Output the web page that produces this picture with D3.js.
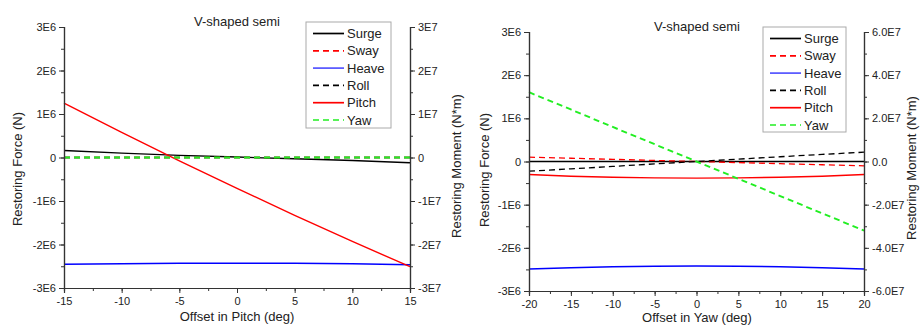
<!DOCTYPE html>
<html>
<head>
<meta charset="utf-8">
<script src="https://cdn.jsdelivr.net/npm/d3@7"></script>
<style>
  body { margin: 0; background: #fff; }
  svg text { font-family: "Liberation Sans", Arial, sans-serif; fill: #222; }
</style>
</head>
<body>
<div id="chart"></div>
<script>
// ---- data ----
var seriesNames = ["Surge", "Sway", "Heave", "Roll", "Pitch", "Yaw"];
var seriesColors = ["#000000", "#ff0000", "#0000ff", "#000000", "#ff0000", "#22ee22"];
var seriesDashed = [false, true, false, true, false, true];
var seriesWidths = [1.4, 1.3, 1.5, 1.3, 1.4, 1.9];
var seriesIsMoment = [false, false, false, true, true, true];

// left panel: offset in pitch
var pitchOffset = [-15, -10, -5, 0, 5, 10, 15];
var pitchSurge  = [0.16e6, 0.10e6, 0.05e6, 0.01e6, -0.03e6, -0.07e6, -0.12e6];
var pitchSway   = [0, 0, 0, 0, 0, 0, 0];
var pitchHeave  = [-2.455e6, -2.44e6, -2.43e6, -2.43e6, -2.43e6, -2.44e6, -2.465e6];
var pitchRoll   = [0, 0, 0, 0, 0, 0, 0];
var pitchPitch  = [1.25e7, 0.58e7, -0.075e7, -0.71e7, -1.33e7, -1.93e7, -2.51e7];
var pitchYaw    = [0, 0, 0, 0, 0, 0, 0];
var pitchForceTicks  = [3e6, 2e6, 1e6, 0, -1e6, -2e6, -3e6];
var pitchForceLabels = ["3E6", "2E6", "1E6", "0", "-1E6", "-2E6", "-3E6"];
var pitchMomentTicks  = [3e7, 2e7, 1e7, 0, -1e7, -2e7, -3e7];
var pitchMomentLabels = ["3E7", "2E7", "1E7", "0", "-1E7", "-2E7", "-3E7"];
var pitchXTicks = [-15, -10, -5, 0, 5, 10, 15];

// right panel: offset in yaw
var yawOffset = [-20, -15, -10, -5, 0, 5, 10, 15, 20];
var yawSurge  = [0, 0, 0, 0, 0, 0, 0, 0, 0];
var yawSway   = [0.10e6, 0.075e6, 0.05e6, 0.025e6, 0, -0.025e6, -0.05e6, -0.075e6, -0.10e6];
var yawHeave  = [-2.49e6, -2.46e6, -2.44e6, -2.425e6, -2.42e6, -2.425e6, -2.44e6, -2.46e6, -2.49e6];
var yawRoll   = [-0.45e7, -0.34e7, -0.23e7, -0.11e7, 0, 0.11e7, 0.22e7, 0.33e7, 0.43e7];
var yawPitch  = [-0.60e7, -0.68e7, -0.73e7, -0.76e7, -0.77e7, -0.76e7, -0.73e7, -0.68e7, -0.60e7];
var yawYaw    = [3.21e7, 2.41e7, 1.60e7, 0.80e7, 0, -0.80e7, -1.60e7, -2.40e7, -3.20e7];
var yawForceTicks  = [3e6, 2e6, 1e6, 0, -1e6, -2e6, -3e6];
var yawForceLabels = ["3E6", "2E6", "1E6", "0", "-1E6", "-2E6", "-3E6"];
var yawMomentTicks  = [6e7, 4e7, 2e7, 0, -2e7, -4e7, -6e7];
var yawMomentLabels = ["6.0E7", "4.0E7", "2.0E7", "0.0", "-2.0E7", "-4.0E7", "-6.0E7"];
var yawXTicks = [-20, -15, -10, -5, 0, 5, 10, 15, 20];

var svg = d3.select("#chart").append("svg")
  .attr("width", 920)
  .attr("height", 325);

function drawPanel(p) {
  var x = d3.scaleLinear().domain(p.xDomain).range([p.left, p.right]);
  var yF = d3.scaleLinear().domain([-3e6, 3e6]).range([p.bottom, p.top]);
  var yM = d3.scaleLinear().domain(p.momentDomain).range([p.bottom, p.top]);
  var g = svg.append("g");

  // series lines
  var line = d3.line();
  p.series.forEach(function(vals, i) {
    var ys = seriesIsMoment[i] ? yM : yF;
    g.append("path")
      .attr("d", line(p.xs.map(function(v, k) { return [x(v), ys(vals[k])]; })))
      .attr("fill", "none")
      .attr("stroke", seriesColors[i])
      .attr("stroke-width", seriesWidths[i])
      .attr("stroke-dasharray", seriesDashed[i] ? "6,4" : null);
  });

  // axes
  var minorX = d3.range(p.xDomain[0], p.xDomain[1] + 0.01, 2.5);
  g.append("g").attr("transform", "translate(0," + p.bottom + ")")
    .call(d3.axisBottom(x).tickValues(minorX).tickSize(3).tickFormat(""));
  g.append("g").attr("transform", "translate(0," + p.bottom + ")")
    .call(d3.axisBottom(x).tickValues(p.xTicks).tickSize(5).tickPadding(4)
      .tickFormat(function(d) { return String(d); }));

  var minorF = d3.range(-3e6, 3e6 + 1, 0.5e6);
  g.append("g").attr("transform", "translate(" + p.left + ",0)")
    .call(d3.axisLeft(yF).tickValues(minorF).tickSize(3).tickFormat(""));
  g.append("g").attr("transform", "translate(" + p.left + ",0)")
    .call(d3.axisLeft(yF).tickValues(p.forceTicks).tickSize(5).tickPadding(3)
      .tickFormat(function(d, i) { return p.forceLabels[i]; }));

  var mStep = (p.momentDomain[1] - p.momentDomain[0]) / 12;
  var minorM = d3.range(p.momentDomain[0], p.momentDomain[1] + 1, mStep);
  g.append("g").attr("transform", "translate(" + p.right + ",0)")
    .call(d3.axisRight(yM).tickValues(minorM).tickSize(3).tickFormat(""));
  g.append("g").attr("transform", "translate(" + p.right + ",0)")
    .call(d3.axisRight(yM).tickValues(p.momentTicks).tickSize(5).tickPadding(3)
      .tickFormat(function(d, i) { return p.momentLabels[i]; }));

  g.selectAll(".domain").attr("stroke", "#333").attr("stroke-width", 1.2);
  g.selectAll(".tick line").attr("stroke", "#333");
  g.selectAll(".tick text").style("font-size", "11px").attr("fill", "#222");

  // titles
  g.append("text").attr("x", p.titleX).attr("y", p.titleY)
    .attr("text-anchor", "middle").style("font-size", "13px").text("V-shaped semi");
  g.append("text").attr("x", p.titleX).attr("y", p.xLabelY)
    .attr("text-anchor", "middle").style("font-size", "13px").text(p.xLabel);
  g.append("text")
    .attr("transform", "translate(" + p.yLabelLX + "," + p.yLabelLY + ") rotate(-90)")
    .attr("text-anchor", "middle").style("font-size", "13px").text("Restoring Force (N)");
  g.append("text")
    .attr("transform", "translate(" + p.yLabelRX + "," + p.yLabelRY + ") rotate(-90)")
    .attr("text-anchor", "middle").style("font-size", "13px").text("Restoring Moment (N*m)");

  // legend
  var lg = g.append("g");
  lg.append("rect")
    .attr("x", p.legX).attr("y", p.legY).attr("width", p.legW).attr("height", p.legH)
    .attr("fill", "#fff").attr("stroke", "#aaa").attr("stroke-width", 1);
  seriesNames.forEach(function(name, i) {
    var cy = p.legY + 11.5 + i * 17.3;
    lg.append("line")
      .attr("x1", p.legX + 7).attr("x2", p.legX + 38)
      .attr("y1", cy).attr("y2", cy)
      .attr("stroke", seriesColors[i] === "#0000ff" ? "#5555ff" : seriesColors[i])
      .attr("stroke-width", 1.7)
      .attr("stroke-dasharray", seriesDashed[i] ? "6,4" : null);
    lg.append("text")
      .attr("x", p.legX + 41).attr("y", cy + 4.5)
      .style("font-size", "13px").text(name);
  });
}

drawPanel({
  xs: pitchOffset,
  series: [pitchSurge, pitchSway, pitchHeave, pitchRoll, pitchPitch, pitchYaw],
  xDomain: [-15, 15], momentDomain: [-3e7, 3e7],
  left: 64, right: 410, top: 27, bottom: 288,
  xTicks: pitchXTicks,
  forceTicks: pitchForceTicks, forceLabels: pitchForceLabels,
  momentTicks: pitchMomentTicks, momentLabels: pitchMomentLabels,
  titleX: 237, titleY: 26, xLabel: "Offset in Pitch (deg)", xLabelY: 321,
  yLabelLX: 22, yLabelLY: 169, yLabelRX: 461, yLabelRY: 166,
  legX: 306, legY: 22, legW: 85, legH: 106
});

drawPanel({
  xs: yawOffset,
  series: [yawSurge, yawSway, yawHeave, yawRoll, yawPitch, yawYaw],
  xDomain: [-20, 20], momentDomain: [-6e7, 6e7],
  left: 529, right: 864, top: 32, bottom: 291,
  xTicks: yawXTicks,
  forceTicks: yawForceTicks, forceLabels: yawForceLabels,
  momentTicks: yawMomentTicks, momentLabels: yawMomentLabels,
  titleX: 697, titleY: 31, xLabel: "Offset in Yaw (deg)", xLabelY: 322,
  yLabelLX: 489, yLabelLY: 170, yLabelRX: 916, yLabelRY: 168,
  legX: 763, legY: 27, legW: 83, legH: 105
});
</script>
</body>
</html>
